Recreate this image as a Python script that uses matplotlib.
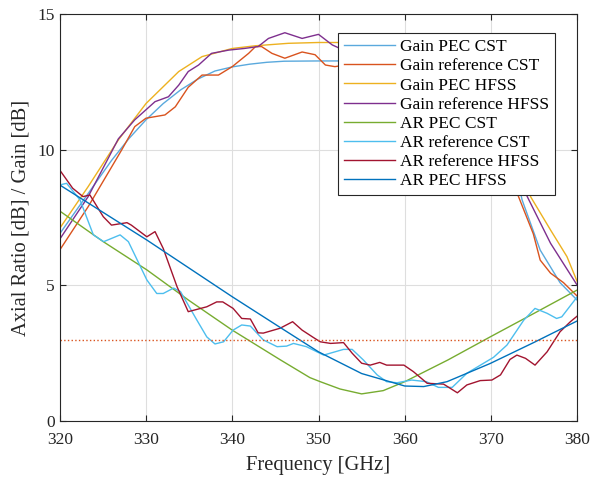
import numpy as np
import matplotlib
matplotlib.use('Agg')
import matplotlib.pyplot as plt

plt.rcParams['font.family'] = ['Liberation Serif', 'DejaVu Serif']

# gain curves (GHz, dB)
f_gain_pec_cst = [320, 322, 324, 326, 328, 330, 332, 334, 336, 338, 340, 342, 344, 346,
                  350, 355, 360, 365, 368, 370, 372, 373.6, 375.7, 378, 380]
g_gain_pec_cst = [6.9, 7.8, 8.7, 9.6, 10.4, 11.1, 11.7, 12.2, 12.6, 12.9, 13.05, 13.15, 13.22, 13.26,
                  13.27, 13.27, 13.27, 13.25, 13.0, 12.3, 10.5, 8.15, 6.3, 5.1, 4.45]

f_gain_ref_cst = [320, 323.3, 327.2, 328.7, 330.0, 332.2, 333.4, 334.9, 336.5, 338.4, 340.0, 341.9,
                  342.7, 343.4, 344.6, 346.1, 348.1, 349.6, 350.8, 351.9, 352.7, 354, 357, 360,
                  363, 366, 368, 370, 372, 373.2, 374.9, 375.7, 376.9, 378.4, 380]
g_gain_ref_cst = [6.3, 7.9, 10.0, 10.85, 11.16, 11.28, 11.58, 12.3, 12.75, 12.75, 13.06, 13.55,
                  13.8, 13.8, 13.55, 13.37, 13.6, 13.5, 13.12, 13.06, 13.1, 13.2, 13.3, 13.1,
                  13.2, 12.8, 12.0, 10.8, 9.3, 8.26, 6.9, 5.93, 5.45, 5.1, 4.6]

f_gain_pec_hfss = [320, 323.3, 326.8, 330, 333.8, 336.5, 340, 342.7, 346.5, 350, 360, 366,
                   369, 371, 373, 374.6, 376.9, 378.8, 380]
g_gain_pec_hfss = [7.1, 8.64, 10.36, 11.7, 12.88, 13.43, 13.73, 13.83, 13.92, 13.95, 13.95, 13.9,
                   13.5, 12.3, 10.0, 8.26, 7.04, 6.06, 5.13]

f_gain_ref_hfss = [320, 323.3, 326.8, 328.7, 331.05, 332.6, 333.8, 334.9, 336.1, 337.6, 339.6,
                   341.4, 343.0, 344.2, 346.1, 348.1, 350, 351.6, 352.7, 354, 357, 360, 363,
                   366, 368, 370, 372, 374.2, 376.9, 380]
g_gain_ref_hfss = [6.7, 8.27, 10.4, 11.1, 11.77, 11.95, 12.38, 12.88, 13.12, 13.55, 13.67,
                   13.73, 13.8, 14.1, 14.31, 14.1, 14.25, 13.86, 13.7, 13.9, 14.0, 13.8, 13.9,
                   13.5, 12.8, 11.6, 9.9, 8.27, 6.55, 5.0]

# axial ratio curves (GHz, dB)
f_ar_pec_cst = [320, 325, 330.1, 335, 340, 345.6, 349, 350.2, 352.5, 355, 357.5, 360, 365, 369.9, 375, 380]
a_ar_pec_cst = [7.74, 6.62, 5.57, 4.44, 3.35, 2.25, 1.6, 1.45, 1.18, 1.0, 1.12, 1.45, 2.25, 3.1, 3.97, 4.83]

f_ar_ref_cst = [320, 320.8, 322.35, 323.9, 325.1, 327.0, 327.96, 330.1, 331.25, 332.0, 333.2, 334.0,
                335.9, 337.05, 338.0, 339.0, 340.1, 341.1, 342.1, 343.6, 345.2, 346.3, 347.1, 348.6,
                350.6, 352.9, 353.9, 355.2, 356.8, 357.9, 359.1, 360.8, 362.5, 363.9, 365.5, 367.2,
                370.3, 371.85, 373.8, 375.1, 376.5, 377.6, 378.2, 380]
a_ar_ref_cst = [8.7, 8.76, 8.15, 6.86, 6.61, 6.86, 6.61, 5.2, 4.7, 4.7, 4.9, 4.77,
                3.72, 3.1, 2.84, 2.92, 3.35, 3.54, 3.5, 2.99, 2.74, 2.76, 2.86, 2.74,
                2.43, 2.64, 2.64, 2.25, 1.7, 1.45, 1.41, 1.51, 1.45, 1.24, 1.24, 1.76,
                2.35, 2.8, 3.72, 4.15, 3.97, 3.78, 3.84, 4.58]

f_ar_ref_hfss = [320, 321.5, 322.7, 323.5, 325.05, 326.0, 327.8, 328.3, 330.1, 331.05, 332.0, 333.6,
                 334.9, 337.05, 338.2, 338.9, 340.1, 341.1, 342.1, 343.0, 343.6, 345.55, 347.0,
                 348.1, 349.4, 350.2, 351.4, 352.9, 353.9, 355.0, 356.0, 357.1, 357.9, 359.9,
                 361.0, 362.6, 364.5, 366.1, 367.2, 368.75, 370.1, 371.1, 372.2, 373.0, 374.0,
                 375.1, 376.5, 378.0, 379.2, 380]
a_ar_ref_hfss = [9.25, 8.58, 8.27, 8.33, 7.53, 7.22, 7.31, 7.22, 6.79, 6.98, 6.36, 4.95,
                 4.03, 4.21, 4.39, 4.39, 4.15, 3.78, 3.76, 3.25, 3.24, 3.42, 3.66,
                 3.35, 3.08, 2.92, 2.86, 2.89, 2.5, 2.13, 2.06, 2.16, 2.06, 2.06,
                 1.82, 1.39, 1.36, 1.04, 1.33, 1.49, 1.51, 1.7, 2.27, 2.43, 2.31,
                 2.06, 2.55, 3.29, 3.66, 3.87]

f_ar_pec_hfss = [320, 330.1, 340, 345.6, 350, 355, 360, 362.2, 364.9, 369.9, 375, 380]
a_ar_pec_hfss = [8.7, 6.67, 4.58, 3.44, 2.55, 1.75, 1.29, 1.27, 1.45, 2.12, 2.9, 3.69]

ar_limit = 3

fig = plt.figure(figsize=(5.93, 4.78), dpi=100)
ax = fig.add_axes([0.1007, 0.1192, 0.8728, 0.8515])

lw = 1.0
ax.plot(f_gain_pec_cst, g_gain_pec_cst, color='#5aa9dd', lw=lw, label='Gain PEC CST')
ax.plot(f_gain_ref_cst, g_gain_ref_cst, color='#d9531e', lw=lw, label='Gain reference CST')
ax.plot(f_gain_pec_hfss, g_gain_pec_hfss, color='#edb120', lw=lw, label='Gain PEC HFSS')
ax.plot(f_gain_ref_hfss, g_gain_ref_hfss, color='#7e2f8e', lw=lw, label='Gain reference HFSS')
ax.plot(f_ar_pec_cst, a_ar_pec_cst, color='#77ac30', lw=lw, label='AR PEC CST')
ax.plot(f_ar_ref_cst, a_ar_ref_cst, color='#4dbeee', lw=lw, label='AR reference CST')
ax.plot(f_ar_ref_hfss, a_ar_ref_hfss, color='#a2142f', lw=lw, label='AR reference HFSS')
ax.plot(f_ar_pec_hfss, a_ar_pec_hfss, color='#0072bd', lw=lw, label='AR PEC HFSS')
ax.axhline(ar_limit, color='#d9531e', lw=1.0, ls=':')

ax.set_xlim(320, 380)
ax.set_ylim(0, 15)
ax.set_xticks(np.arange(320, 381, 10))
ax.set_yticks([0, 5, 10, 15])
ax.grid(True, color='#dedede', lw=0.8)
ax.tick_params(direction='in', top=True, right=True, length=4, labelsize=12.5,
               color='#262626', labelcolor='#262626')
ax.tick_params(axis='x', pad=8)
for s in ax.spines.values():
    s.set_color('#262626')
    s.set_linewidth(0.8)
ax.set_xlabel('Frequency [GHz]', fontsize=14.8, color='#262626', labelpad=6)
ax.set_ylabel('Axial Ratio [dB] / Gain [dB]', fontsize=14.8, color='#262626', labelpad=5)

leg = ax.legend(loc='upper right', bbox_to_anchor=(0.957, 0.953), fontsize=12.5,
                handlelength=2.9, handletextpad=0.3, labelspacing=0.17,
                borderaxespad=0, borderpad=0.35, fancybox=False, framealpha=1,
                edgecolor='#262626')
leg.get_frame().set_linewidth(0.8)

plt.savefig('out.png', dpi=100)
